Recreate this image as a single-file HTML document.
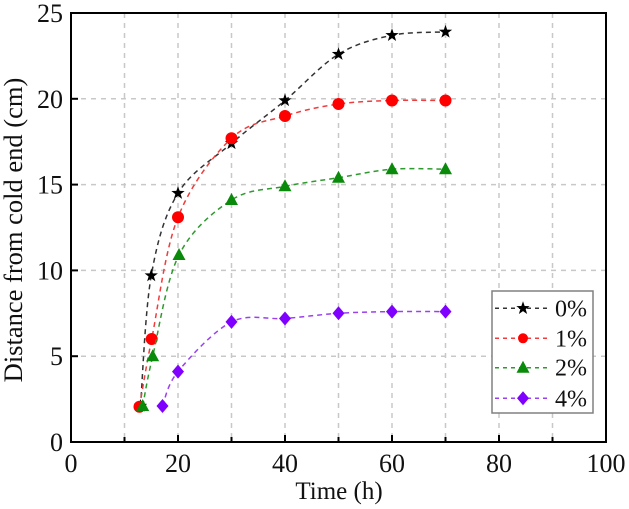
<!DOCTYPE html>
<html>
<head>
<meta charset="utf-8">
<style>
  html, body { margin: 0; padding: 0; background: #ffffff; }
  svg { display: block; }
  svg text { font-family: "Liberation Serif", "DejaVu Serif", serif !important; fill: #111; }
</style>
</head>
<body>
<svg width="629" height="509" viewBox="0 0 629 509" xmlns="http://www.w3.org/2000/svg" font-family="'Liberation Serif', 'DejaVu Serif', serif">
  <defs>
    <path id="star" d="M0,-7 L1.646,-2.265 L6.657,-2.163 L2.663,0.865 L4.114,5.663 L0,2.8 L-4.114,5.663 L-2.663,0.865 L-6.657,-2.163 L-1.646,-2.265 Z"/>
    <path id="tri" d="M0,-7 L6.5,5 L-6.5,5 Z"/>
    <path id="dia" d="M0,-7 L6,0 L0,7 L-6,0 Z"/>
  </defs>
  <rect x="0" y="0" width="629" height="509" fill="#ffffff"/>

  <!-- grid -->
  <g stroke="#c8c8c8" stroke-width="1.5" stroke-dasharray="5,5" fill="none">
    <line x1="124.5" y1="13" x2="124.5" y2="442"/>
    <line x1="178" y1="13" x2="178" y2="442"/>
    <line x1="231.5" y1="13" x2="231.5" y2="442"/>
    <line x1="285" y1="13" x2="285" y2="442"/>
    <line x1="338.5" y1="13" x2="338.5" y2="442"/>
    <line x1="392" y1="13" x2="392" y2="442"/>
    <line x1="445.5" y1="13" x2="445.5" y2="442"/>
    <line x1="499" y1="13" x2="499" y2="442"/>
    <line x1="552.5" y1="13" x2="552.5" y2="442"/>
    <line x1="71" y1="356.2" x2="606" y2="356.2"/>
    <line x1="71" y1="270.4" x2="606" y2="270.4"/>
    <line x1="71" y1="184.6" x2="606" y2="184.6"/>
    <line x1="71" y1="98.8" x2="606" y2="98.8"/>
  </g>

  <!-- 0% -->
  <path d="M140.5,406 C142.29,384.27 145,311.07 151.25,275.6 C157.5,240.13 164.63,215.23 178,193.2 C191.38,171.17 213.67,158.85 231.5,143.4 C249.33,127.95 267.17,115.37 285,100.5 C302.83,85.63 320.67,65.07 338.5,54.2 C356.33,43.33 374.17,39.02 392,35.3 C409.83,31.58 436.58,32.47 445.5,31.9" fill="none" stroke="#333" stroke-width="1.5" stroke-dasharray="5,4"/>
  <g fill="#000">
    <use href="#star" x="140.5" y="406"/>
    <use href="#star" x="151.25" y="275.6"/>
    <use href="#star" x="178" y="193.2"/>
    <use href="#star" x="231.5" y="143.4"/>
    <use href="#star" x="285" y="100.5"/>
    <use href="#star" x="338.5" y="54.2"/>
    <use href="#star" x="392" y="35.3"/>
    <use href="#star" x="445.5" y="31.9"/>
  </g>

  <!-- 1% -->
  <path d="M139.5,406.7 C141.53,395.42 145.28,370.58 151.7,339 C158.12,307.42 164.7,250.65 178,217.2 C191.3,183.75 213.67,155.17 231.5,138.3 C249.33,121.43 267.17,121.72 285,116 C302.83,110.28 320.67,106.58 338.5,104 C356.33,101.42 374.17,101.08 392,100.5 C409.83,99.92 436.58,100.5 445.5,100.5" fill="none" stroke="#f03c3c" stroke-width="1.5" stroke-dasharray="5,4"/>
  <g fill="#ff0000">
    <circle cx="139.5" cy="406.7" r="6"/>
    <circle cx="151.7" cy="339" r="6"/>
    <circle cx="178" cy="217.2" r="6"/>
    <circle cx="231.5" cy="138.3" r="6"/>
    <circle cx="285" cy="116" r="6"/>
    <circle cx="338.5" cy="104" r="6"/>
    <circle cx="392" cy="100.5" r="6"/>
    <circle cx="445.5" cy="100.5" r="6"/>
  </g>

  <!-- 2% -->
  <path d="M142.7,406 C144.37,397.7 146.65,381.37 152.7,356.2 C158.75,331.03 165.87,281.03 179,255 C192.13,228.97 213.83,211.45 231.5,200 C249.17,188.55 267.17,190.02 285,186.3 C302.83,182.58 320.67,180.55 338.5,177.7 C356.33,174.85 374.17,170.62 392,169.2 C409.83,167.78 436.58,169.2 445.5,169.2" fill="none" stroke="#2e9a2e" stroke-width="1.5" stroke-dasharray="5,4"/>
  <g fill="#0a8a0a">
    <use href="#tri" x="142.7" y="406"/>
    <use href="#tri" x="152.7" y="356.2"/>
    <use href="#tri" x="179" y="255"/>
    <use href="#tri" x="231.5" y="200"/>
    <use href="#tri" x="285" y="186.3"/>
    <use href="#tri" x="338.5" y="177.7"/>
    <use href="#tri" x="392" y="169.2"/>
    <use href="#tri" x="445.5" y="169.2"/>
  </g>

  <!-- 4% -->
  <path d="M162.5,406 C165.08,400.27 166.5,385.62 178,371.6 C189.5,357.58 213.67,330.75 231.5,321.9 C249.33,313.05 267.17,319.93 285,318.5 C302.83,317.07 320.67,314.45 338.5,313.3 C356.33,312.15 374.17,311.88 392,311.6 C409.83,311.32 436.58,311.6 445.5,311.6" fill="none" stroke="#9a40f0" stroke-width="1.5" stroke-dasharray="5,4"/>
  <g fill="#7f00ff">
    <use href="#dia" x="162.5" y="406"/>
    <use href="#dia" x="178" y="371.6"/>
    <use href="#dia" x="231.5" y="321.9"/>
    <use href="#dia" x="285" y="318.5"/>
    <use href="#dia" x="338.5" y="313.3"/>
    <use href="#dia" x="392" y="311.6"/>
    <use href="#dia" x="445.5" y="311.6"/>
  </g>

  <!-- axes frame -->
  <rect x="71" y="13" width="535" height="429" fill="none" stroke="#000" stroke-width="2"/>

  <!-- ticks -->
  <g stroke="#000" stroke-width="2">
    <line x1="178" y1="442" x2="178" y2="435"/>
    <line x1="285" y1="442" x2="285" y2="435"/>
    <line x1="392" y1="442" x2="392" y2="435"/>
    <line x1="499" y1="442" x2="499" y2="435"/>
    <line x1="124.5" y1="442" x2="124.5" y2="437"/>
    <line x1="231.5" y1="442" x2="231.5" y2="437"/>
    <line x1="338.5" y1="442" x2="338.5" y2="437"/>
    <line x1="445.5" y1="442" x2="445.5" y2="437"/>
    <line x1="552.5" y1="442" x2="552.5" y2="437"/>
    <line x1="71" y1="356.2" x2="78" y2="356.2"/>
    <line x1="71" y1="270.4" x2="78" y2="270.4"/>
    <line x1="71" y1="184.6" x2="78" y2="184.6"/>
    <line x1="71" y1="98.8" x2="78" y2="98.8"/>
  </g>

  <!-- x tick labels -->
  <g font-family="'Liberation Serif', serif" font-size="26" text-anchor="middle">
    <text x="71" y="472">0</text>
    <text x="178" y="472">20</text>
    <text x="285" y="472">40</text>
    <text x="392" y="472">60</text>
    <text x="499" y="472">80</text>
    <text x="606" y="472">100</text>
  </g>
  <!-- y tick labels -->
  <g font-family="'Liberation Serif', serif" font-size="26" text-anchor="end">
    <text x="63" y="451">0</text>
    <text x="63" y="365">5</text>
    <text x="63" y="279.5">10</text>
    <text x="63" y="193.5">15</text>
    <text x="63" y="108">20</text>
    <text x="63" y="22">25</text>
  </g>

  <!-- axis titles -->
  <text x="339" y="499" font-family="'Liberation Serif', serif" font-size="25" text-anchor="middle">Time (h)</text>
  <text x="22" y="230" font-family="'Liberation Serif', serif" font-size="26.5" text-anchor="middle" transform="rotate(-90 22 230)">Distance from cold end (cm)</text>

  <!-- legend -->
  <rect x="492" y="291" width="101" height="122" fill="#ffffff" stroke="#808080" stroke-width="1.5"/>
  <g stroke-width="1.5" stroke-dasharray="4,4">
    <line x1="495" y1="308.3" x2="548" y2="308.3" stroke="#333"/>
    <line x1="495" y1="338.3" x2="548" y2="338.3" stroke="#f03c3c"/>
    <line x1="495" y1="367.7" x2="548" y2="367.7" stroke="#2e9a2e"/>
    <line x1="495" y1="398.3" x2="548" y2="398.3" stroke="#9a40f0"/>
  </g>
  <use href="#star" x="523" y="308.3" fill="#000"/>
  <circle cx="523" cy="338.3" r="5" fill="#ff0000"/>
  <use href="#tri" x="523" y="367.7" fill="#0a8a0a"/>
  <use href="#dia" x="523" y="398.3" fill="#7f00ff"/>
  <g font-family="'Liberation Serif', serif" font-size="24">
    <text x="555" y="316.3">0%</text>
    <text x="555" y="346.3">1%</text>
    <text x="555" y="375.7">2%</text>
    <text x="555" y="406.3">4%</text>
  </g>
</svg>
</body>
</html>
